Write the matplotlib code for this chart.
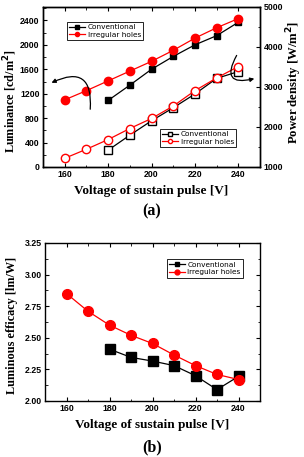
import matplotlib.pyplot as plt
from matplotlib.patches import FancyArrowPatch
from matplotlib.ticker import MultipleLocator, FormatStrFormatter

# du lieu doc tu hinh
volt_conv = [180, 190, 200, 210, 220, 230, 240]
volt_irr = [160, 170, 180, 190, 200, 210, 220, 230, 240]

lum_conv = [1090, 1340, 1600, 1810, 2000, 2150, 2370]
lum_irr = [1100, 1250, 1410, 1570, 1730, 1910, 2110, 2280, 2430]

pow_conv = [1420, 1795, 2155, 2480, 2825, 3215, 3385]
pow_irr = [1218, 1444, 1686, 1962, 2213, 2523, 2908, 3226, 3511]

eff_conv = [2.41, 2.345, 2.316, 2.28, 2.20, 2.09, 2.195]
eff_irr = [2.85, 2.71, 2.60, 2.52, 2.455, 2.364, 2.28, 2.21, 2.17]

W, H = 304, 457
fig = plt.figure(figsize=(W / 100, H / 100), dpi=100)

serif = dict(family='Liberation Serif', weight='bold')


def style_axes(ax, top=True):
    ax.tick_params(direction='in', length=3, width=0.8, labelsize=6.3, pad=2.5, top=top)
    ax.tick_params(which='minor', direction='in', length=1.8, width=0.6, top=top)
    for lab in ax.get_xticklabels() + ax.get_yticklabels():
        lab.set_fontfamily('Liberation Sans')
        lab.set_fontweight('bold')
    for s in ax.spines.values():
        s.set_linewidth(1.0)


def rect(l, t, r, b):
    return [l / W, 1 - b / H, (r - l) / W, (b - t) / H]


# ---- (a) ----
ax1 = fig.add_axes(rect(43, 7, 260, 167))
ax2 = ax1.twinx()

l1, = ax1.plot(volt_conv, lum_conv, '-s', color='black', ms=5, lw=0.9, label='Conventional')
l2, = ax1.plot(volt_irr, lum_irr, '-o', color='red', ms=6, lw=0.9, label='Irregular holes')
ax1.set_xlim(150, 250)
ax1.set_ylim(0, 2620)
ax1.xaxis.set_major_locator(MultipleLocator(20))
ax1.xaxis.set_minor_locator(MultipleLocator(10))
ax1.yaxis.set_major_locator(MultipleLocator(400))
ax1.yaxis.set_minor_locator(MultipleLocator(200))
ax1.set_ylabel('Luminance [cd/m$^\\mathbf{2}$]', fontsize=8.8, **serif)
ax1.yaxis.set_label_coords(-0.112, 0.41)
ax1.set_xlabel('Voltage of sustain pulse [V]', fontsize=9.5, labelpad=4, **serif)
style_axes(ax1)
ax1.tick_params(right=False)

l3, = ax2.plot(volt_conv, pow_conv, '-s', color='black', mfc='white', ms=5.5, lw=0.9,
               label='Conventional')
l4, = ax2.plot(volt_irr, pow_irr, '-o', color='red', mfc='white', ms=6, lw=0.9,
               label='Irregular holes')
ax2.set_ylim(1000, 5000)
ax2.yaxis.set_major_locator(MultipleLocator(1000))
ax2.yaxis.set_minor_locator(MultipleLocator(500))
ax2.set_ylabel('Power density [W/m$^\\mathbf{2}$]', fontsize=9.2, **serif)
ax2.yaxis.set_label_coords(1.113, 0.53)
style_axes(ax2)

leg_kw = dict(fontsize=5.3, handlelength=2.2, markerscale=0.5, fancybox=False,
              edgecolor='black', borderpad=0.3, labelspacing=0.2, handletextpad=0.3,
              borderaxespad=0.3, framealpha=1)
lg1 = ax1.legend(handles=[l1, l2], loc='upper left', bbox_to_anchor=(0.1, 0.92), **leg_kw)
lg1.get_frame().set_linewidth(0.6)
lg2 = ax2.legend(handles=[l3, l4], loc='lower right', bbox_to_anchor=(0.9, 0.11), **leg_kw)
lg2.get_frame().set_linewidth(0.6)

fig.text(152 / W, 1 - 211 / H, '(a)', ha='center', va='center', fontsize=11.5, **serif)

# mui ten cong
fig.add_artist(FancyArrowPatch(
    (90, H - 112), (49, H - 84), transform=None, connectionstyle='arc3,rad=0.9',
    arrowstyle='-|>', mutation_scale=6, lw=0.9, color='black'))
fig.add_artist(FancyArrowPatch(
    (238, H - 53), (257, H - 78), transform=None, connectionstyle='arc3,rad=1.2',
    arrowstyle='-|>', mutation_scale=6, lw=0.9, color='black'))

# ---- (b) ----
ax3 = fig.add_axes(rect(45, 243, 260, 401))
m1, = ax3.plot(volt_conv, eff_conv, '-s', color='black', ms=6.5, lw=0.9, label='Conventional')
m2, = ax3.plot(volt_irr, eff_irr, '-o', color='red', ms=7, lw=0.9, label='Irregular holes')
ax3.set_xlim(150, 250)
ax3.set_ylim(2.0, 3.25)
ax3.xaxis.set_major_locator(MultipleLocator(20))
ax3.xaxis.set_minor_locator(MultipleLocator(10))
ax3.yaxis.set_major_locator(MultipleLocator(0.25))
ax3.yaxis.set_minor_locator(MultipleLocator(0.125))
ax3.yaxis.set_major_formatter(FormatStrFormatter('%.2f'))
ax3.set_ylabel('Luminous efficacy [lm/W]', fontsize=8.8, **serif)
ax3.yaxis.set_label_coords(-0.125, 0.48)
ax3.set_xlabel('Voltage of sustain pulse [V]', fontsize=9.5, labelpad=4, **serif)
style_axes(ax3)
ax3.tick_params(right=True, which='both')
lg3 = ax3.legend(handles=[m1, m2], loc='upper right', bbox_to_anchor=(0.93, 0.91), **leg_kw)
lg3.get_frame().set_linewidth(0.6)

fig.text(152 / W, 1 - 447 / H, '(b)', ha='center', va='center', fontsize=11.5, **serif)

fig.savefig('out.png', dpi=100)
